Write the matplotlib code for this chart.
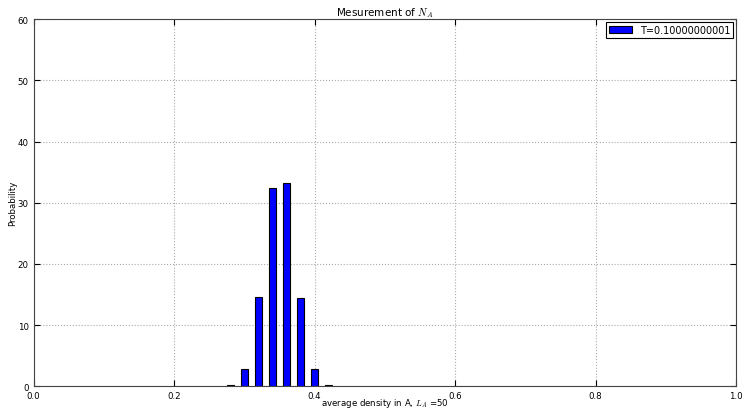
import matplotlib
matplotlib.use("Agg")
import matplotlib.pyplot as plt

# density bins (k / 50) and probability in percent
density = [0.28, 0.30, 0.32, 0.34, 0.36, 0.38, 0.40, 0.42]
prob = [0.3, 2.8, 14.6, 32.4, 33.3, 14.5, 2.9, 0.3]

plt.rcParams['font.size'] = 6
plt.rcParams['mathtext.fontset'] = 'cm'

fig = plt.figure(figsize=(7.45, 4.1), dpi=100)
ax = fig.add_axes([0.045, 0.0549, 0.943, 0.8963])

ax.bar(density, prob, width=0.01, color='blue', edgecolor='black', linewidth=0.8,
       label='T=0.10000000001')

ax.set_xlim(0, 1)
ax.set_ylim(0, 60)
ax.set_xticks([0, 0.2, 0.4, 0.6, 0.8, 1.0])
ax.set_yticks(range(0, 61, 10))
ax.tick_params(direction='in', top=True, right=True, length=4, labelsize=6.2)
ax.tick_params(axis='x', pad=3)
for s in ax.spines.values():
    s.set_color('#444444')
ax.grid(True, linestyle=':', color='#aaaaaa', linewidth=0.8)
ax.set_axisbelow(True)

ax.set_title('Mesurement of $N_A$', fontsize=7.5, pad=3)
ax.set_xlabel('average density in A, $L_A$ =50', fontsize=6.2, labelpad=-2.5)
ax.set_ylabel('Probability', fontsize=6.2, labelpad=0.5)

leg = ax.legend(loc='upper right', fontsize=7, fancybox=False, framealpha=1,
                edgecolor='black', handlelength=2.4, borderpad=0.3,
                borderaxespad=0.3)
leg.get_frame().set_linewidth(0.8)

fig.savefig('out.png', dpi=100)
